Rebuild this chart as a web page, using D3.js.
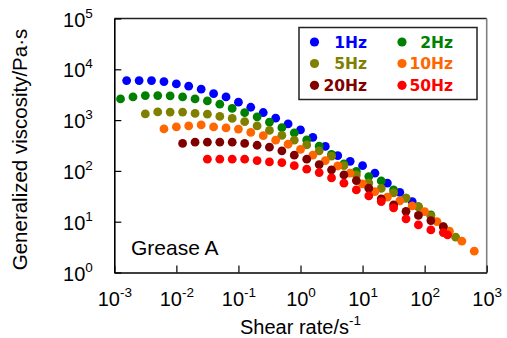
<!DOCTYPE html>
<html><head><meta charset="utf-8">
<script src="https://cdn.jsdelivr.net/npm/d3@7"></script>
<style>html,body{margin:0;padding:0;background:#fff;} svg{display:block;}</style>
</head><body>
<svg id="chart" width="507" height="338"></svg>
<script>
// ---- data ----
const seriesNames  = ["1Hz", "2Hz", "5Hz", "10Hz", "20Hz", "50Hz"];
const seriesColors = ["#0000ff", "#008000", "#808000", "#ff6600", "#800000", "#ff0000"];

const rate1Hz = [0.00158, 0.00251, 0.00398, 0.00631, 0.01, 0.0158, 0.0251, 0.0398, 0.0631, 0.1, 0.158, 0.251, 0.398, 0.631, 1, 1.58, 2.51, 3.98, 6.31, 10, 15.8, 25.1, 39.8, 63.1];
const visc1Hz = [5990, 5990, 5990, 5730, 5160, 4650, 4060, 3320, 2860, 2250, 1790, 1410, 1090, 842, 641, 456, 303, 199, 154, 127, 90, 57.5, 37.8, 24.9];

const rate2Hz = [0.00126, 0.002, 0.00316, 0.00501, 0.00794, 0.0126, 0.02, 0.0316, 0.0501, 0.0794, 0.126, 0.2, 0.316, 0.501, 0.794, 1.26, 2.0, 3.16, 5.01, 7.94, 12.6, 20.0, 31.6, 50.1, 79.4, 126];
const visc2Hz = [2610, 2860, 3040, 3040, 3000, 2860, 2610, 2390, 2060, 1700, 1400, 1160, 909, 709, 560, 408, 306, 211, 137, 97.8, 77.2, 63.6, 42.3, 29.0, 19.8, 13.6];

const rate5Hz = [0.00316, 0.00501, 0.00794, 0.0126, 0.02, 0.0316, 0.0501, 0.0794, 0.126, 0.2, 0.316, 0.501, 0.794, 1.26, 2.0, 3.16, 5.01, 7.94, 12.6, 20.0, 31.6, 50.1, 79.4, 126, 200, 316];
const visc5Hz = [1320, 1450, 1440, 1440, 1355, 1307, 1183, 1080, 930, 769, 627, 500, 402, 325, 248, 195, 127, 83.4, 58.0, 45.2, 36.9, 29.0, 19.6, 13.0, 7.9, 4.95];

const rate10Hz = [0.00631, 0.01, 0.0158, 0.0251, 0.0398, 0.0631, 0.1, 0.158, 0.251, 0.398, 0.631, 1, 1.58, 2.51, 3.98, 6.31, 10, 15.8, 25.1, 39.8, 63.1, 100, 158, 251, 398, 631];
const visc10Hz = [671, 735, 769, 804, 735, 702, 665, 573, 493, 402, 335, 265, 204, 160, 125, 90.1, 55.5, 39.1, 30.4, 25.7, 20.5, 15.8, 10.0, 6.5, 4.13, 2.63];

const rate20Hz = [0.0126, 0.02, 0.0316, 0.0501, 0.0794, 0.126, 0.2, 0.316, 0.501, 0.794, 1.26, 2.0, 3.16, 5.01, 7.94, 12.6, 20.0, 31.6, 50.1, 79.4, 126, 200];
const visc20Hz = [348, 367, 367, 367, 367, 348, 320, 293, 248, 204, 170, 133, 105, 83.4, 64.4, 45.6, 28.1, 21.4, 16.0, 13.3, 10.5, 8.0];

const rate50Hz = [0.0316, 0.0501, 0.0794, 0.126, 0.2, 0.316, 0.501, 0.794, 1.26, 2.0, 3.16, 5.01, 7.94, 12.6, 20.0, 31.6, 50.1, 79.4, 126, 200, 234];
const visc50Hz = [170, 170, 170, 170, 160, 150, 146, 127, 108, 92.6, 72.8, 57.3, 42.3, 32.2, 24.9, 18.7, 11.4, 8.65, 6.9, 6.1, 5.5];

const xTickValues = [1e-3, 1e-2, 1e-1, 1, 10, 100, 1000];
const xTickExps   = ["-3", "-2", "-1", "0", "1", "2", "3"];
const yTickValues = [1, 10, 100, 1000, 1e4, 1e5];
const yTickExps   = ["0", "1", "2", "3", "4", "5"];

const annotationText = "Grease A";
const xTitle = "Shear rate/s";
const xTitleExp = "-1";
const yTitle = "Generalized viscosity/Pa\u00b7s";

// ---- build ----
const rates = [rate1Hz, rate2Hz, rate5Hz, rate10Hz, rate20Hz, rate50Hz];
const viscs = [visc1Hz, visc2Hz, visc5Hz, visc10Hz, visc20Hz, visc50Hz];
const series = seriesNames.map((name, i) => ({
  name, color: seriesColors[i],
  points: rates[i].map((r, j) => ({ r, v: viscs[i][j] }))
}));

const font = "'Liberation Sans', Arial, sans-serif";
const svg = d3.select("#chart");
const pLeft = 114.3, pRight = 486.7, pTop = 18.5, pBottom = 272.5;

const x = d3.scaleLog().domain([1e-3, 1e3]).range([pLeft, pRight]);
const y = d3.scaleLog().domain([1, 1e5]).range([pBottom, pTop]);

// frame top & right
svg.append("line").attr("x1", pLeft).attr("x2", pRight).attr("y1", pTop).attr("y2", pTop)
  .attr("stroke", "#222").attr("stroke-width", 1.3);
svg.append("line").attr("x1", pRight).attr("x2", pRight).attr("y1", pTop).attr("y2", pBottom)
  .attr("stroke", "#808080").attr("stroke-width", 1.6);

// axes
const xAxis = svg.append("g").attr("transform", `translate(0,${pBottom})`)
  .call(d3.axisBottom(x).tickValues(xTickValues).tickSizeInner(-7).tickSizeOuter(0).tickFormat(() => ""));
const yAxis = svg.append("g").attr("transform", `translate(${pLeft},0)`)
  .call(d3.axisLeft(y).tickValues(yTickValues).tickSizeInner(-7).tickSizeOuter(0).tickFormat(() => ""));
[xAxis, yAxis].forEach(g => {
  g.select(".domain").attr("stroke", "#000").attr("stroke-width", 1.6);
  g.selectAll(".tick line").attr("stroke", "#000").attr("stroke-width", 1.2);
  g.selectAll(".tick text").remove();
});

// tick labels with superscripts
xAxis.selectAll(".tick").each(function(d, i) {
  const t = d3.select(this).append("text")
    .attr("x", 0).attr("y", 33).attr("text-anchor", "middle")
    .attr("fill", "#000").style("font-family", font).style("font-size", "20px");
  t.append("tspan").text("10");
  t.append("tspan").attr("dy", -9).style("font-size", "13.5px").text(xTickExps[i]);
});
yAxis.selectAll(".tick").each(function(d, i) {
  const t = d3.select(this).append("text")
    .attr("x", -21.5).attr("y", 7.5).attr("text-anchor", "end")
    .attr("fill", "#000").style("font-family", font).style("font-size", "20px");
  t.append("tspan").text("10");
  t.append("tspan").attr("dy", -9).style("font-size", "13.5px").text(yTickExps[i]);
});

// axis titles
const xt = svg.append("text").attr("x", (pLeft + pRight) / 2).attr("y", 333.5)
  .attr("text-anchor", "middle").style("font-family", font).style("font-size", "20px").attr("fill", "#000");
xt.append("tspan").text(xTitle);
xt.append("tspan").attr("dy", -9).style("font-size", "13.5px").text(xTitleExp);

svg.append("text").attr("transform", `translate(26.5,${(pTop + pBottom) / 2 + 4}) rotate(-90)`)
  .attr("text-anchor", "middle").style("font-family", font).style("font-size", "20.5px")
  .attr("fill", "#000").text(yTitle);

// annotation
svg.append("text").attr("x", 131).attr("y", 255).style("font-family", font)
  .style("font-size", "21px").attr("fill", "#000").text(annotationText);

// points
series.forEach(s => {
  svg.append("g").selectAll("circle").data(s.points).join("circle")
    .attr("cx", d => x(d.r)).attr("cy", d => y(d.v)).attr("r", 4.4)
    .attr("fill", s.color);
});

// legend
const lg = svg.append("g");
lg.append("rect").attr("x", 299).attr("y", 27.5).attr("width", 178).attr("height", 72)
  .attr("fill", "#fff").attr("stroke", "#222").attr("stroke-width", 1.5);
const colMarker = [314.5, 402], colTextEnd = [367, 453], rowY = [42, 63.5, 85.3];
series.forEach((s, i) => {
  const c = i % 2, r = Math.floor(i / 2);
  lg.append("circle").attr("cx", colMarker[c]).attr("cy", rowY[r]).attr("r", 4.6).attr("fill", s.color);
  lg.append("text").attr("x", colTextEnd[c]).attr("y", rowY[r] + 5.8).attr("text-anchor", "end")
    .style("font-family", "'DejaVu Sans', sans-serif").style("font-weight", "bold").style("font-size", "15.5px")
    .attr("fill", s.color).text(s.name);
});
</script>
</body></html>
